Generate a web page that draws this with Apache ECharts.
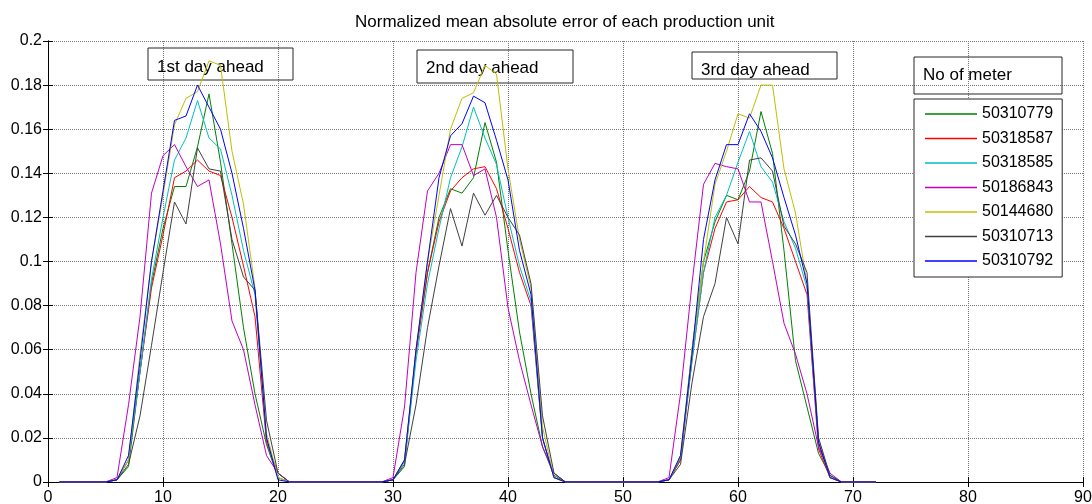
<html>
<head>
<meta charset="utf-8" />
<title></title>
<script type="text/javascript" src="https://cdn.jsdelivr.net/npm/echarts@6/dist/echarts.min.js"></script>
<style>
  html, body, #main { margin: 0; padding: 0; width: 100%; height: 100%; background: #fff; }
</style>
</head>
<body>
<div id="main"></div>
<script type="text/javascript">
var hours = [1,2,3,4,5,6,7,8,9,10,11,12,13,14,15,16,17,18,19,20,21,22,23,24,
  25,26,27,28,29,30,31,32,33,34,35,36,37,38,39,40,41,42,43,44,45,46,47,48,
  49,50,51,52,53,54,55,56,57,58,59,60,61,62,63,64,65,66,67,68,69,70,71,72];

var meters = ['50310779','50318587','50318585','50186843','50144680','50310713','50310792'];

var m50310779 = [0,0,0,0,0,
  0.001,0.007,0.05,0.09,0.115,0.134,0.134,0.152,0.176,0.145,0.108,0.07,0.04,0.017,0.002,
  0,0,0,0,0,0,0,0,0,
  0.001,0.007,0.06,0.095,0.12,0.133,0.131,0.138,0.163,0.145,0.105,0.068,0.04,0.016,0.003,
  0,0,0,0,0,0,0,0,0,
  0.001,0.01,0.06,0.1,0.118,0.13,0.128,0.141,0.168,0.149,0.105,0.055,0.034,0.013,0.003,
  0,0,0,0];
var m50318587 = [0,0,0,0,0,
  0.001,0.01,0.05,0.088,0.112,0.138,0.141,0.146,0.141,0.139,0.12,0.098,0.075,0.018,0.004,
  0,0,0,0,0,0,0,0,0,
  0.001,0.01,0.058,0.095,0.118,0.132,0.138,0.142,0.143,0.133,0.115,0.095,0.08,0.02,0.002,
  0,0,0,0,0,0,0,0,0,
  0.001,0.01,0.055,0.095,0.115,0.127,0.128,0.134,0.129,0.127,0.115,0.1,0.085,0.015,0.002,
  0,0,0,0];
var m50318585 = [0,0,0,0,0,
  0.001,0.01,0.05,0.092,0.12,0.146,0.156,0.173,0.156,0.151,0.13,0.105,0.085,0.02,0.002,
  0,0,0,0,0,0,0,0,0,
  0.001,0.009,0.055,0.09,0.115,0.138,0.152,0.17,0.156,0.144,0.12,0.098,0.082,0.02,0.002,
  0,0,0,0,0,0,0,0,0,
  0.001,0.011,0.055,0.095,0.12,0.13,0.145,0.159,0.143,0.136,0.118,0.106,0.088,0.018,0.002,
  0,0,0,0];
var m50186843 = [0,0,0,0,0,
  0.002,0.035,0.075,0.131,0.148,0.153,0.143,0.134,0.137,0.108,0.073,0.06,0.035,0.012,0.004,
  0,0,0,0,0,0,0,0,0,
  0.002,0.034,0.095,0.132,0.14,0.153,0.153,0.139,0.142,0.12,0.079,0.055,0.035,0.016,0.004,
  0,0,0,0,0,0,0,0,0,
  0.002,0.04,0.09,0.135,0.1445,0.143,0.142,0.127,0.127,0.1,0.072,0.058,0.04,0.016,0.004,
  0,0,0,0];
var m50144680 = [0,0,0,0,0,
  0.001,0.01,0.058,0.1,0.13,0.162,0.174,0.177,0.191,0.189,0.15,0.126,0.088,0.022,0.002,
  0,0,0,0,0,0,0,0,0,
  0.001,0.01,0.06,0.1,0.13,0.16,0.174,0.1765,0.189,0.185,0.142,0.11,0.088,0.025,0.002,
  0,0,0,0,0,0,0,0,0,
  0.001,0.012,0.06,0.1,0.135,0.15,0.167,0.165,0.18,0.18,0.142,0.122,0.09,0.02,0.002,
  0,0,0,0];
var m50310713 = [0,0,0,0,0,
  0.001,0.008,0.03,0.062,0.095,0.127,0.117,0.1515,0.142,0.141,0.11,0.093,0.087,0.028,0.004,
  0,0,0,0,0,0,0,0,0,
  0.001,0.008,0.035,0.07,0.098,0.124,0.107,0.131,0.121,0.13,0.12,0.112,0.09,0.03,0.004,
  0,0,0,0,0,0,0,0,0,
  0.001,0.008,0.045,0.075,0.09,0.12,0.108,0.146,0.147,0.141,0.116,0.108,0.095,0.02,0.003,
  0,0,0,0];
var m50310792 = [0,0,0,0,0,
  0.001,0.012,0.055,0.1,0.132,0.164,0.166,0.18,0.17,0.16,0.14,0.115,0.087,0.02,0.001,
  0,0,0,0,0,0,0,0,0,
  0.001,0.01,0.06,0.1,0.138,0.157,0.1625,0.175,0.172,0.155,0.137,0.105,0.085,0.02,0.002,
  0,0,0,0,0,0,0,0,0,
  0.001,0.012,0.058,0.11,0.137,0.153,0.153,0.167,0.159,0.147,0.129,0.112,0.09,0.018,0.002,
  0,0,0,0];

var values = [m50310779, m50318587, m50318585, m50186843, m50144680, m50310713, m50310792];
var colors = ['#008000', '#ff0000', '#00bfbf', '#bf00bf', '#bfbf00', '#404040', '#0000ff'];

var xTicks = [0, 90, 10];
var yTicks = [0, 0.2, 0.02];

var font = '"Liberation Sans", Arial, sans-serif';

var series = meters.map(function (name, i) {
  return {
    name: name,
    type: 'line',
    symbol: 'none',
    z: 3,
    lineStyle: { width: 1, color: colors[i] },
    itemStyle: { color: colors[i] },
    data: hours.map(function (h, j) { return [h, values[i][j]]; })
  };
});

// annotation boxes, transparent like the matlab ones
function boxLabel(x, y, w, h, text, tx, ty) {
  return {
    type: 'group',
    z: 1,
    children: [
      { type: 'rect', z: 1, shape: { x: x, y: y, width: w, height: h },
        style: { fill: null, stroke: '#262626', lineWidth: 1 } },
      { type: 'text', z: 1, style: { x: tx, y: ty, text: text, fill: '#000',
        font: '17px ' + font, verticalAlign: 'middle' } }
    ]
  };
}

var chart = echarts.init(document.getElementById('main'));
var axisBase = {
  type: 'value',
  axisLine: { show: true, lineStyle: { color: '#000', width: 1 } },
  axisTick: { show: true, inside: true, length: 5, lineStyle: { color: '#000' } }
};

chart.setOption({
  animation: false,
  backgroundColor: '#fff',
  textStyle: { fontFamily: font },
  title: {
    text: 'Normalized mean absolute error of each production unit',
    left: 355, top: 14, padding: 0,
    textStyle: { fontSize: 17, fontWeight: 'normal', color: '#000', fontFamily: font }
  },
  grid: { left: 48, right: 9, top: 41, bottom: 22, outerBoundsMode: 'none' },
  xAxis: [
    Object.assign({}, axisBase, {
      min: xTicks[0], max: xTicks[1], interval: xTicks[2], position: 'bottom',
      axisLabel: { color: '#000', fontSize: 16, margin: 8, fontFamily: font },
      splitLine: { show: true, lineStyle: { color: '#777', type: 'dotted', width: 1 } }
    }),
    Object.assign({}, axisBase, {
      min: xTicks[0], max: xTicks[1], interval: xTicks[2], position: 'top',
      axisLabel: { show: false }, splitLine: { show: false }
    })
  ],
  yAxis: [
    Object.assign({}, axisBase, {
      min: yTicks[0], max: yTicks[1], interval: yTicks[2], position: 'left',
      axisLabel: { color: '#000', fontSize: 16, margin: 6, fontFamily: font },
      splitLine: { show: true, lineStyle: { color: '#777', type: 'dotted', width: 1 } }
    }),
    Object.assign({}, axisBase, {
      min: yTicks[0], max: yTicks[1], interval: yTicks[2], position: 'right',
      axisLabel: { show: false }, splitLine: { show: false }
    })
  ],
  legend: {
    data: meters,
    orient: 'vertical',
    left: 914, top: 99,
    padding: [7, 9, 8, 11],
    itemGap: 8.5,
    itemWidth: 52, itemHeight: 1.5,
    itemTextGap: 6,
    icon: 'rect',
    borderColor: '#262626', borderWidth: 1,
    backgroundColor: '#fff',
    selectedMode: false,
    textStyle: { fontSize: 16, color: '#000', fontFamily: font }
  },
  graphic: [
    boxLabel(148, 48, 145, 32, '1st day ahead', 157, 67),
    boxLabel(417, 50, 156, 33, '2nd day ahead', 426, 68),
    boxLabel(692, 52, 145, 27, '3rd day ahead', 701, 70.5),
    boxLabel(914, 57, 148, 37, 'No of meter', 923, 75.5)
  ],
  series: series
});
</script>
</body>
</html>
